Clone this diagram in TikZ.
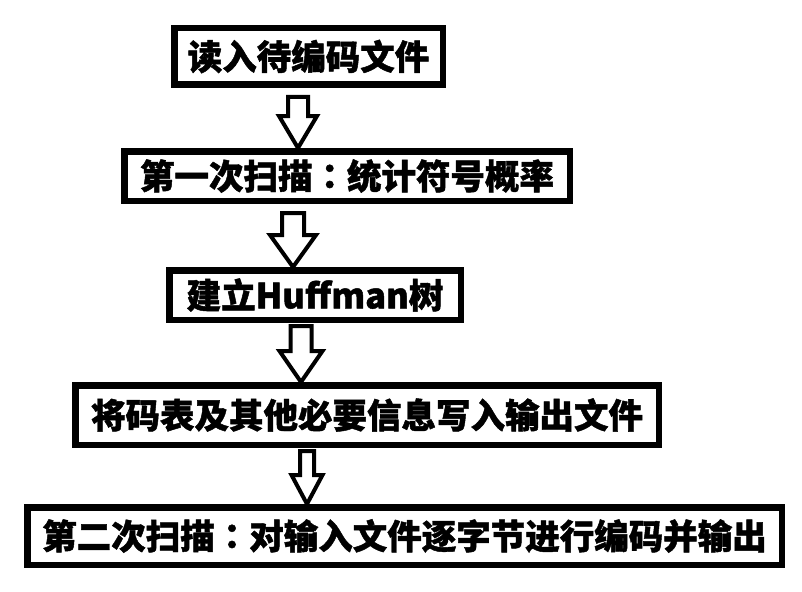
\documentclass[tikz,border=0pt]{standalone}
\usepackage{fontspec}
\newfontfamily\cjk{Noto Sans CJK SC}[BoldFeatures={FakeBold=1.3}]
\newfontfamily\cjktc{Noto Sans CJK TC}[BoldFeatures={FakeBold=1.3}]
\usetikzlibrary{calc}
\tikzset{
  stepbox/.style={draw=black, line width=6.5pt, fill=white, inner sep=0pt,
    font=\cjk\bfseries\fontsize{34.5}{36}\selectfont, align=center},
  arrowline/.style={draw=black, line width=4pt, fill=white, line join=miter}
}
\newcommand\cjkcolon{{\cjktc ：}}
% #1 from node, #2 to node, #3 tip x, #4 shaft half width, #5 head half width, #6 head length, #7 gap below source
\newcommand\hollowarrow[7]{%
  \draw[arrowline] let \p1=(#1.south), \p2=(#2.north) in
    (#3-#4, \y1-#7) -- (#3+#4, \y1-#7) -- (#3+#4, \y2+#6) -- (#3+#5, \y2+#6)
    -- (#3, \y2) -- (#3-#5, \y2+#6) -- (#3-#4, \y2+#6) -- cycle;}
\begin{document}
\begin{tikzpicture}[x=1pt, y=1pt]
  \fill[white] (0,0) rectangle (802,-591);
  \useasboundingbox (0,0) rectangle (802,-591);
  \node[stepbox, minimum width=268.5pt, minimum height=56.5pt] (b1) at (308.5,-56.5) {读入待编码文件};
  \node[stepbox, minimum width=445.5pt, minimum height=49.5pt] (b2) at (347,-176) {第一次扫描\cjkcolon 统计符号概率};
  \node[stepbox, minimum width=291.5pt, minimum height=49.5pt] (b3) at (315,-295) {建立Huffman树};
  \node[stepbox, minimum width=583.5pt, minimum height=59.5pt] (b4) at (367,-415) {将码表及其他必要信息写入输出文件};
  \node[stepbox, minimum width=754.5pt, minimum height=57.5pt] (b5) at (404.5,-536) {第二次扫描\cjkcolon 对输入文件逐字节进行编码并输出};
  \hollowarrow{b1}{b2}{298}{10}{19}{32}{9}
  \hollowarrow{b2}{b3}{293}{11}{23}{32}{9}
  \hollowarrow{b3}{b4}{301}{10.5}{21.5}{31}{3}
  \hollowarrow{b4}{b5}{307}{7}{15.5}{29}{3}
\end{tikzpicture}
\end{document}
